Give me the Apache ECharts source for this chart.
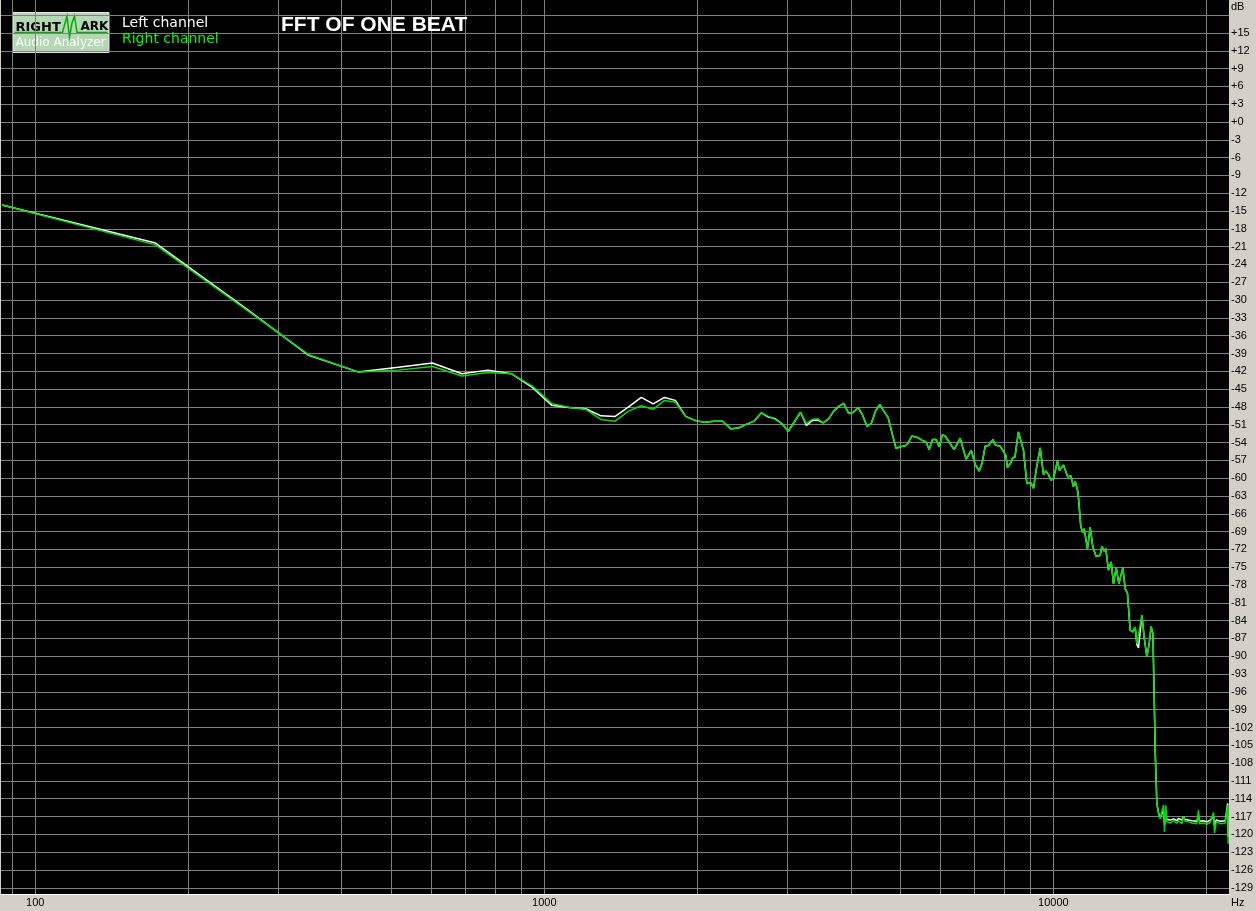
<!DOCTYPE html>
<html><head><meta charset="utf-8">
<script src="https://cdn.jsdelivr.net/npm/echarts@6/dist/echarts.min.js"></script>
<style>html,body{margin:0;padding:0;background:#d4d0c8;overflow:hidden}#c{width:1256px;height:911px}</style>
</head><body><div id="c"></div>
<script>
// Frequencies (Hz) of the plotted points
const freqHz = [
  86.1, 172.3, 258.4, 344.5, 430.7, 516.8, 602.9, 689.1, 775.2, 861.3,
  947.5, 1033.6, 1119.7, 1205.9, 1292.0, 1378.1, 1464.3, 1550.4, 1636.5, 1722.7,
  1808.8, 1894.9, 1981.1, 2067.2, 2153.3, 2239.5, 2325.6, 2411.7, 2497.9, 2584.0,
  2670.1, 2756.3, 2842.4, 2928.5, 3014.6, 3100.8, 3186.9, 3273.0, 3359.2, 3445.3,
  3531.4, 3617.6, 3703.7, 3789.8, 3876.0, 3962.1, 4048.2, 4134.4, 4220.5, 4306.6,
  4392.8, 4478.9, 4565.0, 4651.2, 4737.3, 4823.4,
  4911, 5000, 5100, 5177, 5272, 5432, 5515, 5624, 5701, 5787,
  5884, 5965, 6055, 6130, 6384, 6560, 6741, 6896, 7022, 7150,
  7248, 7348, 7459, 7608, 7687, 7862, 8067, 8125, 8251, 8326,
  8402, 8539, 8736, 8870, 9033, 9140, 9282, 9422, 9563, 9667,
  9782, 9888, 10005, 10186, 10280, 10467, 10678, 10823, 10951, 11035,
  11150, 11200, 11324, 11428, 11495, 11668, 11811, 11956, 12136, 12357,
  12454, 12584, 12680, 12830, 12987, 13125, 13286, 13449, 13693, 13839,
  13983, 14155, 14329, 14478, 14588, 14696, 14924, 15080, 15265, 15424,
  15563, 15685, 15776, 15849, 15970, 16087, 16210, 16337, 16454, 16530,
  16634, 16710, 16962, 17218, 17482, 17619, 17746, 17884, 18013, 18151,
  18424, 18711, 19138, 19279, 19365, 19720, 20027, 20329, 20636, 20730,
  20888, 21272, 21758, 22000, 22050
];
// Right channel level (dB)
const rightDb = [
  -14.0, -20.7, -31.5, -39.2, -42.1, -41.8, -41.2, -42.8, -42.2, -42.4,
  -44.5, -47.4, -48.1, -48.4, -50.1, -50.4, -48.7, -47.8, -48.4, -46.9,
  -47.2, -49.6, -50.3, -50.6, -50.4, -50.4, -51.7, -51.5, -50.9, -50.4,
  -49.0, -49.6, -50.1, -50.8, -52.1, -50.5, -48.9, -50.8, -50.1, -50.0,
  -50.7, -50.0, -48.7, -47.9, -47.4, -49.1, -48.9, -48.1, -49.4, -51.3,
  -50.7, -48.6, -47.6, -48.8, -49.8, -52.5,
  -55.0, -54.7, -54.6, -54.2, -52.9, -53.2, -53.6, -53.9, -55.2, -53.5,
  -53.5, -54.7, -52.7, -52.9, -55.2, -53.3, -56.8, -55.3, -57.7, -58.8,
  -57.4, -54.6, -54.5, -53.5, -54.4, -54.6, -56.2, -58.2, -57.4, -56.5,
  -56.5, -52.2, -55.3, -60.9, -60.8, -61.7, -57.9, -54.9, -59.4, -58.8,
  -59.4, -60.3, -60.1, -57.1, -58.7, -57.8, -59.8, -59.6, -61.4, -60.5,
  -61.9, -63.2, -68.2, -69.2, -68.5, -71.9, -68.3, -71.6, -73.2, -73.0,
  -71.5, -72.3, -71.9, -75.5, -74.1, -77.8, -75.0, -77.8, -75.1, -78.6,
  -79.4, -85.6, -85.9, -85.1, -87.9, -88.2, -83.1, -86.8, -90.1, -87.9,
  -85.0, -86.2, -96.3, -105.9, -114.8, -116.5, -117.4, -117.7, -115.1, -119.6,
  -115.1, -117.9, -118.1, -117.7, -118.1, -117.7, -117.5, -118.2, -117.0, -117.8,
  -117.9, -118.1, -118.2, -115.9, -118.2, -118.1, -118.3, -118.0, -116.3, -119.8,
  -117.9, -118.2, -118.1, -115.1, -121.6
];
// Left channel level (dB)
const leftDb = [
  -14.0, -20.4, -31.3, -39.3, -42.1, -41.3, -40.6, -42.4, -41.8, -42.4,
  -44.7, -47.7, -48.1, -48.3, -49.5, -49.6, -48.0, -46.4, -47.5, -46.4,
  -46.9, -49.6, -50.3, -50.6, -50.4, -50.4, -51.7, -51.5, -50.9, -50.4,
  -49.0, -49.7, -50.0, -50.8, -52.1, -50.5, -48.9, -51.1, -50.3, -50.2,
  -50.7, -50.0, -48.7, -47.9, -47.4, -49.1, -48.9, -48.1, -49.4, -51.3,
  -50.7, -48.6, -47.6, -48.8, -49.8, -52.5,
  -55.0, -54.7, -54.6, -54.2, -52.9, -53.2, -53.6, -53.9, -55.2, -53.5,
  -53.5, -54.7, -52.7, -52.9, -55.2, -53.3, -56.8, -55.3, -57.7, -58.8,
  -57.4, -54.6, -54.5, -53.5, -54.4, -54.6, -56.2, -58.2, -57.4, -56.5,
  -56.5, -52.2, -55.3, -60.9, -60.8, -61.7, -57.9, -54.9, -59.4, -58.8,
  -59.4, -60.3, -60.1, -57.1, -58.7, -57.8, -59.8, -59.6, -61.4, -60.5,
  -61.9, -63.2, -68.2, -69.2, -68.5, -71.9, -68.3, -71.6, -73.2, -73.0,
  -71.5, -72.3, -71.9, -75.5, -74.1, -77.8, -75.0, -77.8, -75.1, -78.6,
  -79.4, -85.6, -85.9, -85.1, -88.0, -88.6, -83.1, -86.8, -90.1, -87.9,
  -85.0, -86.2, -96.3, -105.9, -114.8, -116.3, -117.2, -117.5, -116.0, -118.4,
  -116.5, -117.5, -117.6, -117.4, -117.7, -117.3, -117.4, -117.6, -117.0, -117.5,
  -117.6, -117.7, -117.8, -116.8, -117.8, -117.7, -117.9, -117.6, -117.0, -118.6,
  -117.6, -117.8, -117.7, -114.8, -120.5
];
// Axis ticks
const xGridHz = [90,100,200,300,400,500,600,700,800,900,1000,2000,3000,4000,5000,6000,7000,8000,9000,10000,20000];
const xLabelHz = [100, 1000, 10000];
const yGridDb = [-129,-126,-123,-120,-117,-114,-111,-108,-105,-102,-99,-96,-93,-90,-87,-84,-81,-78,-75,-72,-69,-66,-63,-60,-57,-54,-51,-48,-45,-42,-39,-36,-33,-30,-27,-24,-21,-18,-15,-12,-9,-6,-3,0,3,6,9,12,15,18];
const yLabelDb = yGridDb.filter(v => v <= 15);
const fMin = 85.67, fMax = 22130;
const dbMin = -130.05, dbMax = 20.55;

const lg = Math.log10;
const chart = echarts.init(document.getElementById('c'), null, {renderer: 'canvas'});
chart.setOption({
  backgroundColor: '#d4d0c8',
  animation: false,
  title: {
    text: 'FFT OF ONE BEAT', left: 281, top: 15, padding: 0,
    textStyle: {color: '#ffffff', fontSize: 21, fontWeight: 'bold', fontFamily: 'Liberation Sans'}
  },
  legend: {
    orient: 'vertical', left: 117, top: 16, padding: 0, itemGap: 2,
    itemWidth: 0, itemHeight: 14, icon: 'rect', selectedMode: false,
    textStyle: {fontFamily: 'DejaVu Sans', fontSize: 14, padding: 0},
    data: [
      {name: 'Left channel', textStyle: {color: '#ffffff'}},
      {name: 'Right channel', textStyle: {color: '#00ff00'}}
    ]
  },
  grid: {left: 1, right: 27, top: 0, bottom: 17, show: true, backgroundColor: '#000000', borderWidth: 0, containLabel: false},
  xAxis: {
    type: 'value', min: lg(fMin), max: lg(fMax),
    axisLine: {show: true, onZero: false, lineStyle: {color: '#ffffff', width: 1}},
    axisTick: {show: false, customValues: xGridHz.map(lg)},
    axisLabel: {
      customValues: xLabelHz.map(lg), margin: 3, color: '#000000',
      fontFamily: 'Liberation Sans', fontSize: 11,
      formatter: v => String(Math.round(Math.pow(10, v)))
    },
    splitLine: {show: true, lineStyle: {color: '#808080', width: 1}}
  },
  yAxis: {
    type: 'value', position: 'right', min: dbMin, max: dbMax,
    axisLine: {show: false, onZero: false},
    axisTick: {show: false, customValues: yGridDb},
    axisLabel: {
      customValues: yLabelDb, margin: 2, color: '#000000',
      fontFamily: 'Liberation Sans', fontSize: 11,
      formatter: v => (v >= 0 ? '+' + v : String(v))
    },
    splitLine: {show: true, lineStyle: {color: '#808080', width: 1}}
  },
  graphic: [
    {type: 'text', left: 1231, top: 1, style: {text: 'dB', fill: '#000', font: '11px "Liberation Sans"'}},
    {type: 'text', left: 1231, top: 897, style: {text: 'Hz', fill: '#000', font: '11px "Liberation Sans"'}},
    {type: 'group', left: 12, top: 12, children: [
      {type: 'rect', shape: {x: 0.5, y: 0.5, width: 96, height: 40}, style: {fill: '#b4d8b4', stroke: '#e4e4e4', lineWidth: 1}},
      {type: 'polyline', shape: {points: [[2,20.5],[50,20.5],[52,13],[54.5,4],[57,25],[59.5,11],[62,4],[64.5,20.5],[95,20.5]]},
        style: {stroke: '#00b000', lineWidth: 1.5, fill: null}},
      {type: 'text', x: 3, y: 9, style: {text: 'RIGHT', fill: '#000', font: 'bold 13px "DejaVu Sans"'}},
      {type: 'text', x: 68, y: 9, style: {text: 'ARK', fill: '#000', font: 'bold 12px "DejaVu Sans"'}},
      {type: 'text', x: 3, y: 25, style: {text: 'Audio Analyzer', fill: '#ffffff', font: '12px "DejaVu Sans"'}}
    ]}
  ],
  series: [
    {name: 'Left channel', type: 'line', showSymbol: false, symbol: 'none',
      data: freqHz.map((f, i) => [lg(f), leftDb[i]]),
      lineStyle: {color: '#ffffff', width: 1.5}, itemStyle: {color: '#ffffff'}, z: 2},
    {name: 'Right channel', type: 'line', showSymbol: false, symbol: 'none',
      data: freqHz.map((f, i) => [lg(f), rightDb[i]]),
      lineStyle: {color: '#00e000', width: 1.5}, itemStyle: {color: '#00ff00'}, z: 3}
  ]
});
</script></body></html>
